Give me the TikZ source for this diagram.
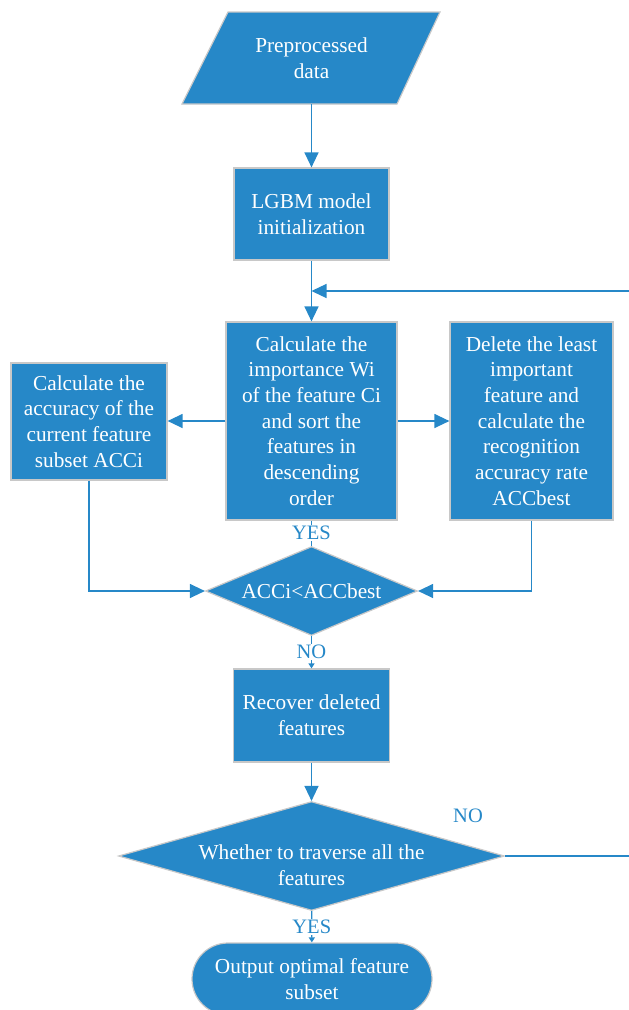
\documentclass[tikz,border=0pt]{standalone}
\usepackage{fontspec}
\setmainfont{Liberation Serif}
\usetikzlibrary{shapes.geometric,shapes.misc,arrows.meta}
\definecolor{fbl}{HTML}{2688C8}
\definecolor{bgr}{HTML}{C8C8C8}
\begin{document}
\begin{tikzpicture}[x=1pt,y=-1pt,
 txt/.style={font=\fontsize{21.3}{25.7}\selectfont, text=white, align=center},
 box/.style={txt, rectangle, fill=fbl, draw=bgr, line width=1.2pt, inner sep=0pt},
 dia/.style={diamond, fill=fbl, draw=bgr, line width=1.2pt, inner sep=0pt},
 conn/.style={draw=fbl, line width=1.3pt},
 arr/.style={conn, -{Triangle[length=15pt,width=14pt]}},
 sarr/.style={conn, -{Triangle[length=5pt,width=6pt]}},
 lbl/.style={font=\fontsize{20.5}{22}\selectfont, text=fbl, fill=white, inner sep=1pt}]
\useasboundingbox (0,0) rectangle (629,1010);
% parallelogram
\filldraw[fill=fbl, draw=bgr, line width=1.2pt] (228,12) -- (440,12) -- (397,104) -- (182,104) -- cycle;
\node[txt, minimum width=258, minimum height=92, inner sep=0pt] (pre) at (311.5,58) {Preprocessed\\data};
\node[box, minimum width=155, minimum height=92] (lgbm) at (311.5,214) {LGBM model\\initialization};
\node[box, minimum width=171, minimum height=198] (calc) at (311.5,421) {Calculate the\\importance Wi\\of the feature Ci\\and sort the\\features in\\descending\\order};
\node[box, minimum width=156, minimum height=117] (acc) at (89,421.5) {Calculate the\\accuracy of the\\current feature\\subset ACCi};
\node[box, minimum width=163, minimum height=198] (del) at (531.5,421) {Delete the least\\important\\feature and\\calculate the\\recognition\\accuracy rate\\ACCbest};
\node[dia, minimum width=212, minimum height=89, label={[txt]center:ACCi<ACCbest}] (d1) at (311.5,591) {};
\node[box, minimum width=156, minimum height=93] (rec) at (311.5,715.5) {Recover deleted\\features};
\node[dia, minimum width=386, minimum height=109, label={[txt, yshift=-9pt]center:Whether to traverse all the\\features}] (d2) at (311.5,856) {};
\node[txt, rounded rectangle, fill=fbl, draw=bgr, line width=1.2pt, inner sep=0pt, minimum width=240, minimum height=72] (out) at (312,979) {Output optimal feature\\subset};
% connectors
\coordinate (lp) at (311.5,291);
\coordinate (rt) at (629,291);
\coordinate (re) at (629,856);
\draw[arr] (pre.south) -- (lgbm.north);
\draw[arr] (lgbm) -- (calc);
\draw[arr] (rt) -- (lp);
\draw[arr] (calc.west) -- (calc.west -| acc.east);
\draw[arr] (calc.east) -- (calc.east -| del.west);
\draw[conn] (calc) -- node[lbl]{YES} (d1);
\draw[arr] (acc.south) |- (d1.west);
\draw[arr] (del.south) |- (d1.east);
\draw[sarr] (d1) -- node[lbl]{NO} (rec);
\draw[arr] (rec) -- (d2);
\draw[sarr] (d2) -- node[lbl]{YES} (out);
\draw[conn] (d2.east) -- (re);
\node[lbl, fill=none] (no2) at (468,816) {NO};
\end{tikzpicture}
\end{document}
